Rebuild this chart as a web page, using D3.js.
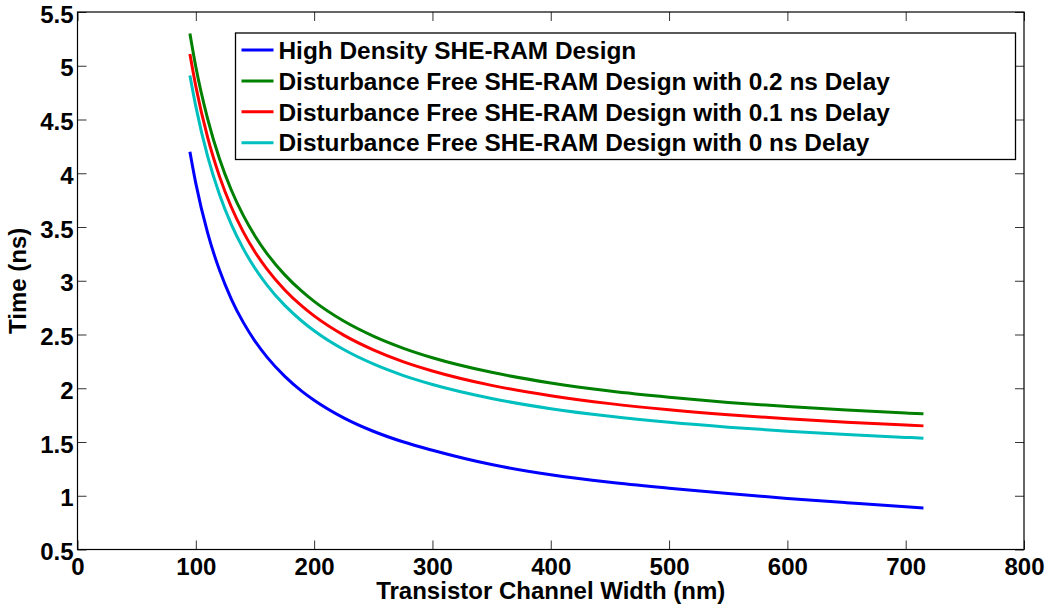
<!DOCTYPE html>
<meta charset="utf-8">

<!-- Load d3.js -->
<script src="https://d3js.org/d3.v7.min.js"></script>

<style>
body {
  margin: 0;
  background: #fff;
}
text {
  font-family: "Liberation Sans", Arial, Helvetica, sans-serif;
  font-weight: bold;
}
</style>

<div id="my_dataviz"></div>

<script>

// transistor channel width (nm)
var widths = [95, 100, 110, 120, 130, 140, 150, 160, 175, 190, 200, 225, 250, 275,
              300, 350, 400, 450, 500, 550, 600, 650, 700, 715];

// write time (ns) for each design
var highDensity = [4.20, 3.906, 3.445, 3.099, 2.83, 2.615, 2.439, 2.292, 2.113, 1.969, 1.889, 1.725,
                   1.60, 1.502, 1.423, 1.29, 1.195, 1.125, 1.07, 1.02, 0.975, 0.935, 0.897, 0.887];
var delay02 = [5.30, 4.99, 4.505, 4.135, 3.844, 3.61, 3.417, 3.255, 3.057, 2.898, 2.808, 2.625,
               2.485, 2.374, 2.284, 2.148, 2.049, 1.974, 1.916, 1.868, 1.83, 1.797, 1.769, 1.762];
var delay01 = [5.11, 4.81, 4.333, 3.971, 3.686, 3.457, 3.268, 3.111, 2.917, 2.761, 2.673, 2.494,
               2.357, 2.248, 2.161, 2.027, 1.931, 1.857, 1.80, 1.754, 1.716, 1.684, 1.657, 1.65];
var delay00 = [4.91, 4.622, 4.156, 3.802, 3.524, 3.301, 3.116, 2.962, 2.773, 2.621, 2.535, 2.36,
               2.226, 2.12, 2.035, 1.905, 1.81, 1.739, 1.683, 1.638, 1.601, 1.57, 1.543, 1.536];

var seriesNames = [
  "High Density SHE-RAM Design",
  "Disturbance Free SHE-RAM Design with 0.2 ns Delay",
  "Disturbance Free SHE-RAM Design with 0.1 ns Delay",
  "Disturbance Free SHE-RAM Design with 0 ns Delay"
];
var seriesColors = ["#0000ff", "#008000", "#ff0000", "#00bfbf"];

var xTicks = [0, 100, 200, 300, 400, 500, 600, 700, 800];
var yTicks = [0.5, 1, 1.5, 2, 2.5, 3, 3.5, 4, 4.5, 5, 5.5];

var allSeries = [highDensity, delay02, delay01, delay00];

// dimensions of the plot box
var margin = {top: 12, right: 26, bottom: 61.5, left: 77.5},
    width = 1050 - margin.left - margin.right,
    height = 611 - margin.top - margin.bottom;

var svg = d3.select("#my_dataviz")
  .append("svg")
    .attr("width", 1050)
    .attr("height", 611)
  .append("g")
    .attr("transform", "translate(" + margin.left + "," + margin.top + ")");

var x = d3.scaleLinear()
  .domain([0, 800])
  .range([0, width]);

var y = d3.scaleLinear()
  .domain([0.5, 5.5])
  .range([height, 0]);

// axes with inward ticks on all four sides
function styleAxis(g) {
  g.select(".domain").remove();
  g.selectAll(".tick line").attr("stroke", "#333");
  g.selectAll("text")
    .attr("fill", "#000")
    .style("font-size", "24px")
    .style("font-family", "'Liberation Sans', Arial, sans-serif")
    .style("font-weight", "bold");
}

svg.append("g")
  .attr("transform", "translate(0," + height + ")")
  .call(d3.axisBottom(x).tickValues(xTicks).tickSize(-9).tickPadding(8))
  .call(styleAxis);

svg.append("g")
  .call(d3.axisTop(x).tickValues(xTicks).tickSize(-9).tickFormat(""))
  .call(styleAxis);

svg.append("g")
  .call(d3.axisLeft(y).tickValues(yTicks).tickSize(-9).tickPadding(4)
    .tickFormat(d3.format("")))
  .call(styleAxis)
  .selectAll("text")
    .attr("dy", "0.42em");

svg.append("g")
  .attr("transform", "translate(" + width + ",0)")
  .call(d3.axisRight(y).tickValues(yTicks).tickSize(-9).tickFormat(""))
  .call(styleAxis);

// frame
svg.append("rect")
  .attr("width", width)
  .attr("height", height)
  .attr("fill", "none")
  .attr("stroke", "#000")
  .attr("stroke-width", 1.2);

// curves
var line = d3.line()
  .x(function(d, i) { return x(widths[i]); })
  .y(function(d) { return y(d); })
  .curve(d3.curveMonotoneX);

svg.selectAll(".curve")
  .data(allSeries)
  .enter()
  .append("path")
    .attr("class", "curve")
    .attr("d", line)
    .attr("fill", "none")
    .attr("stroke", function(d, i) { return seriesColors[i]; })
    .attr("stroke-width", 3);

// axis labels
svg.append("text")
  .attr("text-anchor", "middle")
  .attr("x", width / 2)
  .attr("y", height + 49.5)
  .style("font-size", "24px")
  .text("Transistor Channel Width (nm)");

svg.append("text")
  .attr("transform", "rotate(-90)")
  .attr("x", -height / 2)
  .attr("y", -margin.left + 26)
  .attr("text-anchor", "middle")
  .style("font-size", "24px")
  .text("Time (ns)");

// legend
var legend = svg.append("g")
  .attr("transform", "translate(" + (235.5 - margin.left) + "," + (33 - margin.top) + ")");

legend.append("rect")
  .attr("width", 780)
  .attr("height", 126.5)
  .attr("fill", "#fff")
  .attr("stroke", "#000")
  .attr("stroke-width", 1.3);

var rows = legend.selectAll(".row")
  .data(seriesNames)
  .enter()
  .append("g")
    .attr("class", "row")
    .attr("transform", function(d, i) { return "translate(0," + (17 + i * 30.9) + ")"; });

rows.append("line")
  .attr("x1", 6)
  .attr("x2", 38)
  .attr("stroke", function(d, i) { return seriesColors[i]; })
  .attr("stroke-width", 3);

rows.append("text")
  .attr("x", 43)
  .attr("dy", "0.36em")
  .style("font-size", "24.4px")
  .text(function(d) { return d; });

</script>
